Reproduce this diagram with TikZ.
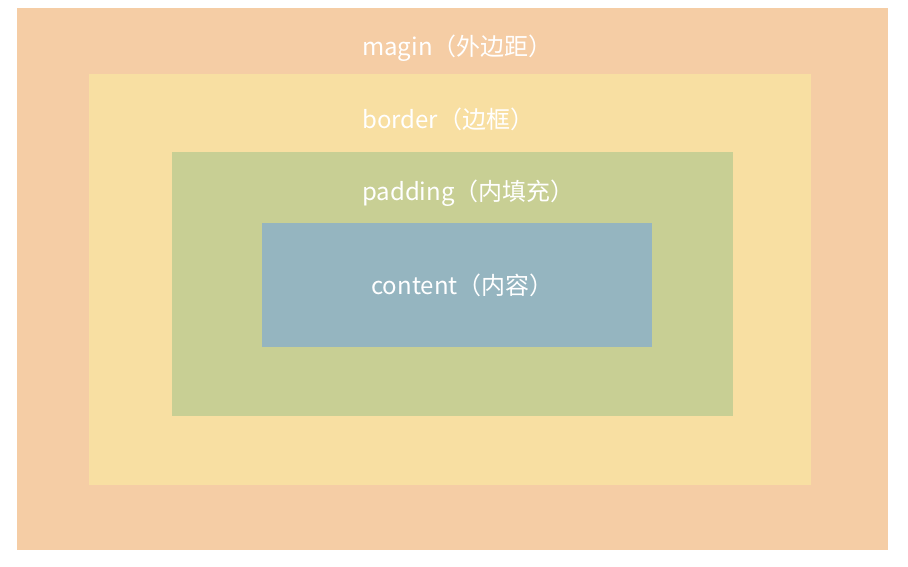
\documentclass[tikz,border=0pt]{standalone}
\usepackage{fontspec}
\setmainfont{Noto Sans CJK SC}
\usepackage{tikz}
\usetikzlibrary{positioning}
\definecolor{marginc}{HTML}{F5CDA5}
\definecolor{borderc}{HTML}{F8DFA2}
\definecolor{paddingc}{HTML}{C8CF94}
\definecolor{contentc}{HTML}{95B5C0}
\tikzset{lbl/.style={text=white,anchor=west,inner sep=0pt,font=\fontsize{24}{27}\selectfont}}

\begin{document}
\begin{tikzpicture}[x=1pt,y=-1pt]
 \useasboundingbox (0,0) rectangle (908,566);
 \fill[marginc] (17,8) rectangle (888,550);
 \fill[borderc] (89,74) rectangle (811,485);
 \fill[paddingc] (172,152) rectangle (733,416);
 \fill[contentc] (262,223) rectangle (652,347);
 \node[lbl] (magin) at (362,48) {magin（外边距）};
 \node[lbl] (border) at (362,119) {border（边框）};
 \node[lbl] (padding) at (362,193) {padding（内填充）};
 \node[lbl] (content) at (371,285) {content（内容）};
\end{tikzpicture}
\end{document}
